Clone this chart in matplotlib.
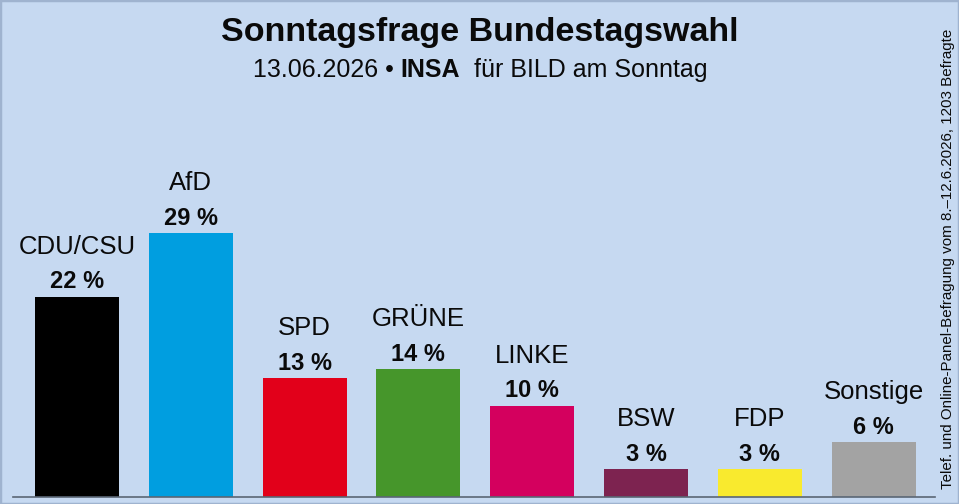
import matplotlib
matplotlib.use("Agg")
import matplotlib.pyplot as plt
from matplotlib.patches import Rectangle

parties = ["CDU/CSU", "AfD", "SPD", "GRÜNE", "LINKE", "BSW", "FDP", "Sonstige"]
values = [22, 29, 13, 14, 10, 3, 3, 6]
colors = ["#000000", "#009ee0", "#e2001a", "#46962b", "#d4005e", "#7d2350", "#f9ea2e", "#a3a3a3"]
title = "Sonntagsfrage Bundestagswahl"
subtitle_parts = ["13.06.2026 • ", "INSA", "  für BILD am Sonntag"]
side_note = "Telef. und Online-Panel-Befragung vom 8.–12.6.2026, 1203 Befragte"

plt.rcParams['font.family'] = ['Liberation Sans', 'DejaVu Sans']
BG = "#c6d9f1"

W, H = 959, 504
fig = plt.figure(figsize=(W / 100, H / 100), dpi=100, facecolor=BG)

ax_left, ax_right = 13 / W, 935 / W
ax_bottom = (H - 496.5) / H
ax = fig.add_axes([ax_left, ax_bottom, ax_right - ax_left, 1 - ax_bottom])
ax.set_facecolor("none")
x = list(range(len(parties)))
ax.bar(x, values, width=0.738, color=colors, zorder=2)
ax.set_xlim(-0.5625, 7.54)
ax.set_ylim(0, 496.5 / 9.08)
for s in ["top", "right", "left"]:
    ax.spines[s].set_visible(False)
ax.spines["bottom"].set_color("#5a6675")
ax.spines["bottom"].set_linewidth(1.2)
ax.set_xticks([])
ax.set_yticks([])

for xi, v, p in zip(x, values, parties):
    ax.annotate(f"{v} %", (xi, v), xytext=(0, 6), textcoords="offset points",
                ha="center", va="baseline", fontsize=17, fontweight="bold", color="#0a0a0a")
    ax.annotate(p, (xi, v), xytext=(0, 31), textcoords="offset points",
                ha="center", va="baseline", fontsize=18.5, color="#0a0a0a")

fig.text(480 / W, 1 - 32 / H, title, ha="center", va="center", fontsize=24.5,
         fontweight="bold", color="#0a0a0a")

# subtitle composed of parts (bold INSA)
fig.canvas.draw()
r = fig.canvas.get_renderer()
weights = ["normal", "bold", "normal"]
tmp = []
total = 0
for t, w in zip(subtitle_parts, weights):
    tx = fig.text(0, 0, t, fontsize=18, fontweight=w)
    bb = tx.get_window_extent(renderer=r)
    tmp.append((tx, bb.width))
    total += bb.width
start = 480 - total / 2
for tx, wd in tmp:
    tx.set_position((start / W, 1 - 70 / H))
    tx.set_va("center")
    tx.set_color("#0a0a0a")
    start += wd

fig.text(948 / W, 1 - 259 / H, side_note, rotation=90, ha="center", va="center",
         fontsize=10.9, color="#0a0a0a")

fig.patches.append(Rectangle((0, 0), 1, 1, transform=fig.transFigure, fill=False,
                             edgecolor="#9fb3cf", linewidth=2.5, zorder=10))

fig.savefig("out.png", dpi=100, facecolor=BG)
